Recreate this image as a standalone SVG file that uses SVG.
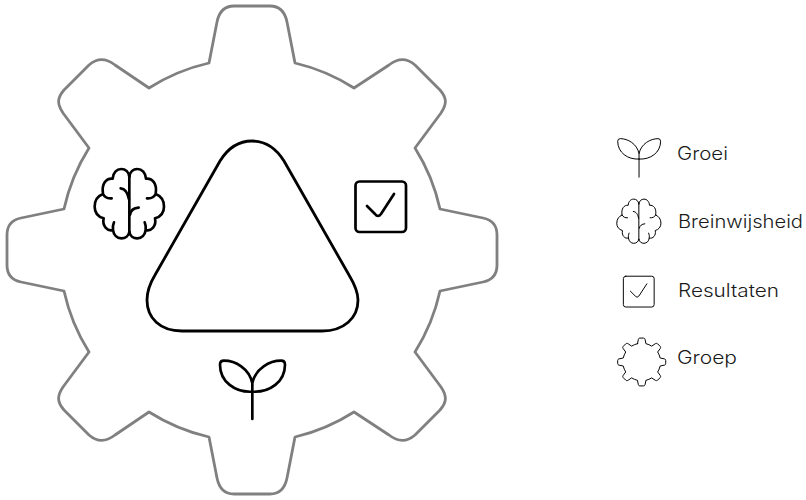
<svg xmlns="http://www.w3.org/2000/svg" width="806" height="500" viewBox="0 0 806 500">
<style>
.ic{fill:none;stroke:#000;stroke-linecap:round;stroke-linejoin:round}
.gear{stroke:#808080;stroke-width:2.800}
.lbl{font-family:Inter,"Liberation Sans",sans-serif;font-size:18px;font-weight:300;fill:#1a1a1a}
</style>
<defs>
<path id="gearShape" d="M209 63L217 22C219 12 224 6 234 6L270 6C280 6 285 12 287 22L295 63A192 192 0 0 1 354 88L389 65C398 58 407 58 415 65L440 90C447 98 447 104 441 113L415 148A192 192 0 0 1 440 209L483 218C493 220 497 226 497 235L497 265C497 274 493 280 483 282L440 291A192 192 0 0 1 415 352L441 387C447 396 447 402 440 410L415 435C407 442 398 442 389 435L354 412A192 192 0 0 1 295 437L287 478C285 488 280 494 270 494L234 494C224 494 219 488 217 478L209 437A192 192 0 0 1 149 412L115 435C106 442 97 442 89 435L64 410C57 402 57 396 63 387L89 352A192 192 0 0 1 64 291L21 282C11 280 7 274 7 265L7 235C7 226 11 220 21 218L64 209A192 192 0 0 1 89 148L63 113C57 104 57 98 64 90L89 65C97 58 106 58 115 65L149 88A192 192 0 0 1 209 63Z"/>
<g id="brainShape">
<path d="M148 76V250"/>
<path d="M148 80C150 65 160 57 172 57C186 57 197 68 198 86C218 84 232 102 227 132C240 137 252 150 252 170C252 188 242 200 225 205C230 228 214 245 197 240C195 255 185 265 172 265C160 265 150 258 148 246M227 132C222 142 212 146 201 145M197 240C198 232 197 224 194 217"/>
<path transform="matrix(-1 0 0 1 296 0)" d="M148 80C150 65 160 57 172 57C186 57 197 68 198 86C218 84 232 102 227 132C240 137 252 150 252 170C252 188 242 200 225 205C230 228 214 245 197 240C195 255 185 265 172 265C160 265 150 258 148 246M227 132C222 142 212 146 201 145M197 240C198 232 197 224 194 217"/>
<path d="M122 115C134 116 143 126 147 148M176 173C162 174 152 182 150 194"/>
</g>
<g id="sproutShape">
<path d="M157 237V130M157 155C105 158 60 125 60 74Q60 62 72 62C105 62 148 85 157 130C166 85 210 62 243 62Q255 62 255 74C255 125 210 158 157 155Z"/>
</g>
<g id="checkShape">
<rect x="355.500" y="181.500" width="50.500" height="50.500" rx="4"/>
<path d="M367 206L375 214Q378 218 381 214L394 194"/>
</g>
</defs>
<g id="gear"><use href="#gearShape" class="ic gear"/></g>
<g id="triangle"><path class="ic" stroke-width="2.800" d="M252 141C238 141 228 148 220 161L155 275C149 285 147 292 147 300C147 318 160 331 182 331L322 331C344 331 358 318 358 300C358 292 355 285 349 275L284 161C276 148 266 141 252 141Z"/></g>
<g id="brain"><use href="#brainShape" class="ic" stroke-width="8" transform="translate(80 150) scale(.3333)"/></g>
<g id="check"><use href="#checkShape" class="ic" stroke-width="2.700"/></g>
<g id="sprout"><use href="#sproutShape" class="ic" stroke-width="8" transform="translate(200 340) scale(.3333)"/></g>
<g id="legend-groei">
<use href="#sproutShape" class="ic" stroke-width="4.500" transform="translate(604.500 125) scale(.22)"/>
<text class="lbl" x="677" y="160" textLength="51" lengthAdjust="spacingAndGlyphs">Groei</text>
</g>
<g id="legend-breinwijsheid">
<use href="#brainShape" class="ic" stroke-width="4.700" transform="translate(607.400 187) scale(.2125)"/>
<text class="lbl" x="678" y="228" textLength="125" lengthAdjust="spacingAndGlyphs">Breinwijsheid</text>
</g>
<g id="legend-resultaten">
<use href="#checkShape" class="ic" stroke-width="1.600" transform="translate(406.500 165.500) scale(.61)"/>
<text class="lbl" x="678" y="297" textLength="101" lengthAdjust="spacingAndGlyphs">Resultaten</text>
</g>
<g id="legend-groep">
<use href="#gearShape" class="ic" stroke-width="10" transform="translate(617 337.500) scale(.098)"/>
<text class="lbl" x="677" y="364" textLength="60" lengthAdjust="spacingAndGlyphs">Groep</text>
</g>
</svg>
